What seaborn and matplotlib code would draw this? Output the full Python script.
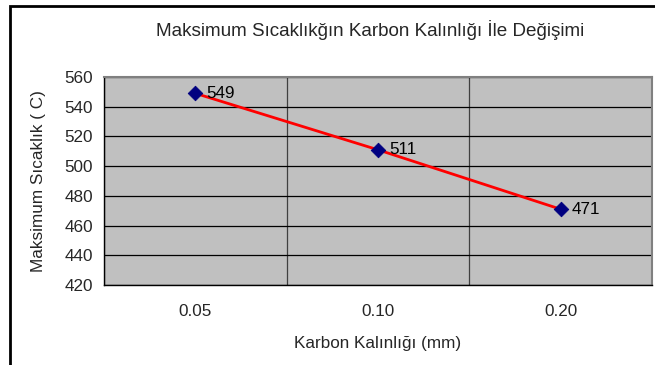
import matplotlib
matplotlib.use("Agg")
import matplotlib.pyplot as plt
import seaborn as sns
import pandas as pd
from matplotlib.patches import Rectangle

categories = ["0.05", "0.10", "0.20"]
values = [549, 511, 471]
yticks = [420, 440, 460, 480, 500, 520, 540, 560]

title = "Maksimum Sıcaklıkğın Karbon Kalınlığı İle Değişimi"
xlabel = "Karbon Kalınlığı (mm)"
ylabel = "Maksimum Sıcaklık ( C)"

sns.set_style("white")
plt.rcParams["font.family"] = ["Liberation Sans", "DejaVu Sans"]

df = pd.DataFrame({"pos": list(range(len(categories))), "val": values, "cat": categories})

W, H = 655, 365
FS = 12.3
fig = plt.figure(figsize=(W / 100, H / 100), dpi=100)
ax = fig.add_axes([104 / W, 1 - 285 / H, (652 - 104) / W, (285 - 77) / H])
ax.set_facecolor("#C0C0C0")

sns.lineplot(data=df, x="pos", y="val", ax=ax, color="red", linewidth=2, zorder=3)
sns.scatterplot(data=df, x="pos", y="val", ax=ax, marker="D", s=55, color="#000080",
                edgecolor="#000080", zorder=4)

for p, v in zip(df["pos"], df["val"]):
    ax.annotate(str(v), (p, v), xytext=(8, 0), textcoords="offset points",
                va="center", ha="left", fontsize=FS, color="black")

ax.set_xlim(-0.5, len(categories) - 0.5)
ax.set_ylim(min(yticks), max(yticks))
ax.set_yticks(yticks)
ax.set_yticklabels([str(t) for t in yticks], fontsize=FS)
ax.set_xticks([i - 0.5 for i in range(len(categories) + 1)], minor=False)
ax.set_xticklabels([""] * (len(categories) + 1))
ax.set_xticks(list(range(len(categories))), minor=True)
ax.set_xticklabels(categories, minor=True, fontsize=FS)
ax.tick_params(axis="x", which="minor", length=0, pad=14)
ax.tick_params(axis="x", which="major", length=5, direction="out", color="black", width=1)
ax.tick_params(axis="y", length=5, direction="out", color="black", width=1, pad=3)

ax.grid(True, axis="y", color="black", linewidth=0.9)
ax.grid(True, axis="x", which="major", color="#404040", linewidth=0.9)
ax.set_axisbelow(True)

ax.set_xlabel(xlabel, fontsize=FS, labelpad=12)
ax.set_ylabel(ylabel, fontsize=FS, labelpad=13)

for s in ["left", "bottom"]:
    ax.spines[s].set_color("black")
    ax.spines[s].set_linewidth(1)
for s in ["top", "right"]:
    ax.spines[s].set_color("#808080")
    ax.spines[s].set_linewidth(1.5)
    ax.spines[s].set_visible(True)

fig.text(370 / W, 1 - 30 / H, title, ha="center", va="center", fontsize=13.6)

fig.patches.append(Rectangle((9.5 / W, -0.1), 1.2, 1 - 6.5 / H + 0.1,
                             transform=fig.transFigure, fill=False,
                             edgecolor="black", linewidth=2))

fig.savefig("out.png", dpi=100)
